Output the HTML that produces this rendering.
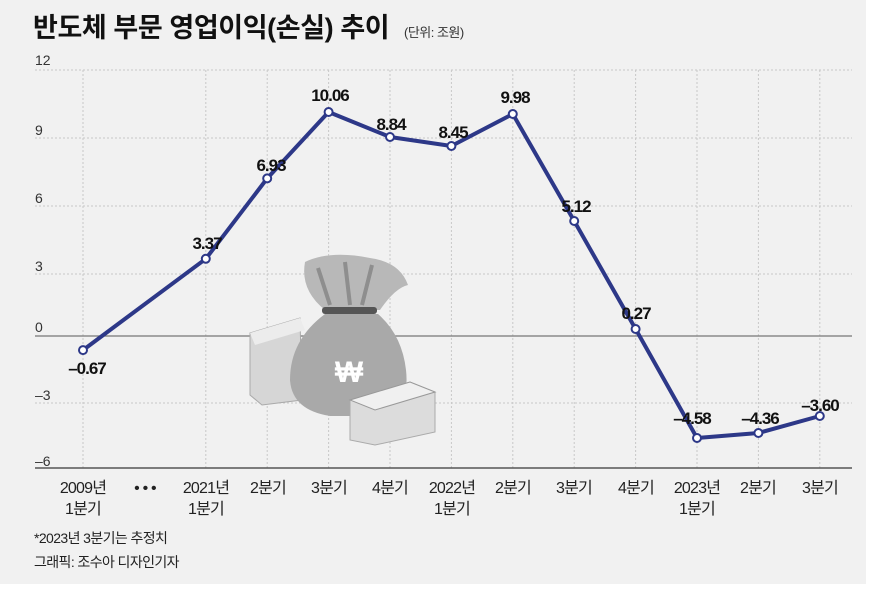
<!DOCTYPE html>
<html><head><meta charset="utf-8"><style>
html,body{margin:0;padding:0;background:#fff;}
svg{display:block;}
text{font-family:"Liberation Sans","Noto Sans CJK KR",sans-serif;}
</style></head><body>
<svg width="877" height="592" viewBox="0 0 877 592" xmlns="http://www.w3.org/2000/svg">
<rect x="0" y="0" width="866" height="584" fill="#f1f1f1"/>
<text x="33" y="37" font-size="27" font-weight="bold" fill="#111" letter-spacing="-0.4">반도체 부문 영업이익(손실) 추이</text>
<text x="404" y="37" font-size="13" fill="#333" letter-spacing="-0.5">(단위: 조원)</text>
<g stroke="#c8c8c8" stroke-dasharray="2,2" stroke-width="1">
<line x1="35" x2="852" y1="70" y2="70"/><line x1="35" x2="852" y1="138" y2="138"/>
<line x1="35" x2="852" y1="206" y2="206"/><line x1="35" x2="852" y1="274" y2="274"/>
<line x1="35" x2="852" y1="403" y2="403"/>
<line x1="83" x2="83" y1="70" y2="470"/><line x1="205.8" x2="205.8" y1="70" y2="470"/>
<line x1="267.2" x2="267.2" y1="70" y2="470"/><line x1="328.6" x2="328.6" y1="70" y2="470"/>
<line x1="390" x2="390" y1="70" y2="470"/><line x1="451.4" x2="451.4" y1="70" y2="470"/>
<line x1="512.8" x2="512.8" y1="70" y2="470"/><line x1="574.2" x2="574.2" y1="70" y2="470"/>
<line x1="635.6" x2="635.6" y1="70" y2="470"/><line x1="697" x2="697" y1="70" y2="470"/>
<line x1="758.4" x2="758.4" y1="70" y2="470"/><line x1="819.8" x2="819.8" y1="70" y2="470"/>
</g>
<line x1="35" x2="852" y1="336" y2="336" stroke="#777" stroke-width="1.2"/>
<line x1="35" x2="852" y1="468" y2="468" stroke="#555" stroke-width="1.5"/>
<g font-size="14" fill="#333">
<text x="35" y="65">12</text><text x="35" y="135">9</text><text x="35" y="203">6</text>
<text x="35" y="271">3</text><text x="35" y="332">0</text><text x="35" y="400">–3</text><text x="35" y="466">–6</text>
</g>
<g>
<polygon points="250,333 300,318 302,400 262,405 250,395" fill="#d6d6d6" stroke="#aaa"/>
<polygon points="250,333 300,318 305,330 255,345" fill="#ececec"/>
<path d="M305,262 Q330,250 370,258 Q400,262 408,285 Q395,288 380,310 L325,310 Q300,290 305,262 Z" fill="#b8b8b8"/>
<path d="M318,268 L330,305 M345,262 L350,305 M372,265 L362,305" stroke="#8e8e8e" stroke-width="4" fill="none"/>
<rect x="322" y="307" width="55" height="7" rx="3" fill="#555"/>
<path d="M325,314 Q290,340 290,380 Q292,410 330,416 L385,416 Q410,405 406,370 Q402,335 378,314 Z" fill="#a9a9a9"/>
<text x="349" y="382" font-size="30" font-weight="bold" fill="#fff" text-anchor="middle">₩</text>
<polygon points="350,400 410,382 435,392 435,432 375,445 350,440" fill="#dcdcdc" stroke="#aaa"/>
<polygon points="350,400 410,382 435,392 375,410" fill="#f0f0f0" stroke="#999"/>
</g>
<polyline points="83,350.1 205.8,258.8 267.2,178.4 328.6,112 390,137 451.4,146 512.8,114 574.2,221 635.6,329 697,438 758.4,433 819.8,416"
 fill="none" stroke="#2d3888" stroke-width="4" stroke-linejoin="round"/>
<g fill="#fff" stroke="#2d3888" stroke-width="2">
<circle cx="83" cy="350.1" r="4"/><circle cx="205.8" cy="258.8" r="4"/><circle cx="267.2" cy="178.4" r="4"/>
<circle cx="328.6" cy="112" r="4"/><circle cx="390" cy="137" r="4"/><circle cx="451.4" cy="146" r="4"/>
<circle cx="512.8" cy="114" r="4"/><circle cx="574.2" cy="221" r="4"/><circle cx="635.6" cy="329" r="4"/>
<circle cx="697" cy="438" r="4"/><circle cx="758.4" cy="433" r="4"/><circle cx="819.8" cy="416" r="4"/>
</g>
<g font-size="17" font-weight="bold" fill="#111" text-anchor="middle" letter-spacing="-1">
<text x="87" y="374">–0.67</text><text x="207" y="249">3.37</text><text x="271" y="171">6.93</text>
<text x="330" y="101">10.06</text><text x="391" y="130">8.84</text><text x="453" y="138">8.45</text>
<text x="515" y="103">9.98</text><text x="576" y="212">5.12</text><text x="636" y="319">0.27</text>
<text x="692" y="424">–4.58</text><text x="760" y="424">–4.36</text><text x="820" y="411">–3.60</text>
</g>
<g font-size="16" fill="#222" text-anchor="middle" letter-spacing="-0.8">
<text x="83" y="493">2009년</text><text x="83" y="514">1분기</text>
<text x="145" y="493">• • •</text>
<text x="206" y="493">2021년</text><text x="206" y="514">1분기</text>
<text x="268" y="493">2분기</text><text x="329" y="493">3분기</text><text x="390" y="493">4분기</text>
<text x="452" y="493">2022년</text><text x="452" y="514">1분기</text>
<text x="513" y="493">2분기</text><text x="574" y="493">3분기</text><text x="636" y="493">4분기</text>
<text x="697" y="493">2023년</text><text x="697" y="514">1분기</text>
<text x="758" y="493">2분기</text><text x="820" y="493">3분기</text>
</g>
<text x="34" y="543" font-size="14" fill="#222" letter-spacing="-0.6">*2023년 3분기는 추정치</text>
<text x="34" y="567" font-size="14" fill="#222" letter-spacing="-0.6">그래픽: 조수아 디자인기자</text>
</svg>
</body></html>
